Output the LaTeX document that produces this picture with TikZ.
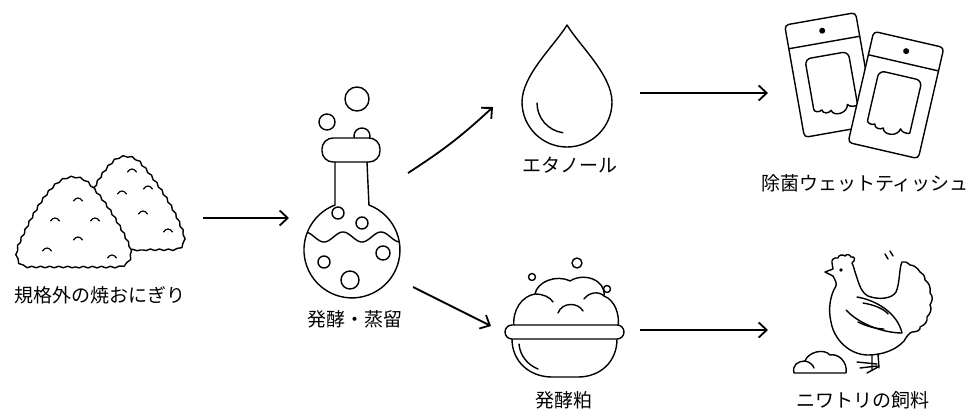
\documentclass[tikz,border=0pt]{standalone}
\usepackage{fontspec}
\setmainfont{Noto Sans CJK JP}
\usetikzlibrary{arrows.meta,decorations.pathmorphing}

\tikzset{
  itemtext/.style={font=\fontsize{19}{20}\selectfont, inner sep=0pt},
  flow/.style={line width=1.8pt, -{Straight Barb[length=8pt,width=15pt]}},
  icon/.style={line width=1.4pt, line join=round, line cap=round},
}

\begin{document}
\begin{tikzpicture}[x=1pt,y=-1pt]
\useasboundingbox (0,0) rectangle (973,410);

% rice balls, back one first
\begin{scope}[icon, decoration={snake, segment length=9pt, amplitude=0.8pt}]
\filldraw[fill=white, decorate] (140,250) -- (85,250) .. controls (75,250) and (72,240) .. (78,230)
  .. controls (88,205) and (100,175) .. (115,162) .. controls (122,155) and (134,154) .. (143,163)
  .. controls (158,180) and (175,205) .. (184,228)
  .. controls (190,242) and (186,250) .. (175,250) -- cycle;
\filldraw[fill=white, decorate] (75,267) -- (32,267) .. controls (18,267) and (16,254) .. (22,242)
  .. controls (33,217) and (48,190) .. (62,181) .. controls (71,175) and (83,175) .. (92,184)
  .. controls (107,200) and (122,224) .. (131,244)
  .. controls (137,258) and (130,267) .. (118,267) -- cycle;
\end{scope}
\foreach \x/\y in {78/200, 55/220, 95/220, 78/239, 47/250, 112/257, 132/171, 122/193, 148/188, 143/213, 168/231}
\draw[icon, line width=1.2pt] (\x-4.5,\y+1) .. controls (\x-2,\y-3) and (\x+2,\y-3) .. (\x+4.5,\y+1);

% flask
\draw[icon] (362,136) circle (8);
\draw[icon] (327,122) circle (8);
\draw[icon] (357,99) circle (12);
\filldraw[icon, fill=white, rounded corners=11] (322,138) rectangle (380,162);
\draw[icon] (335,162) -- (335,205) arc[start angle=249.3, end angle=-69.3, radius=48] -- (367,162);
\begin{scope}
\clip (352,250) circle (48);
\draw[icon] plot[domain=300:405, samples=80] (\x, {237-5*cos((\x-305)*9.4737)});
\end{scope}
\foreach \x/\y/\r in {338/213/6, 362/223/6, 324/262/6, 383/253/7, 350/280/9}
\draw[icon] (\x,\y) circle (\r);

% drop
\draw[icon] (567,25) .. controls (555,45) and (522,75) .. (522,102)
  arc[start angle=180, end angle=0, radius=45] .. controls (612,75) and (579,45) .. cycle;
\draw[icon] (537,103) arc[start angle=180, end angle=98, radius=30];

% wet tissue packs
\foreach \cx/\cy/\ang in {830/75/10, 896/95/-13}
{
\begin{scope}[shift={(\cx,\cy)}, rotate=\ang]
\filldraw[icon, fill=white, rounded corners=4] (-36,-57) rectangle (36,57);
\draw[icon] (-36,-33) -- (36,-33);
\fill (0,-45) circle (3);
\draw[icon, rounded corners=6] (-22,31) -- (-22,-20) -- (22,-20) -- (22,28) [sharp corners]
  .. controls (22,35) and (14,36) .. (12,32) .. controls (11,41) and (-4,42) .. (-5,35)
  .. controls (-8,38) and (-14,37) .. (-14,33) .. controls (-17,35) and (-22,34) .. cycle;
\end{scope}
}

% bowl of lees
\foreach \x/\y/\r in {577/263/5, 532/277/3.5, 607/289/3.5}
\draw[icon] (\x,\y) circle (\r);
\filldraw[icon, fill=white] (514,327) .. controls (512,310) and (522,296) .. (535,294)
  .. controls (537,282) and (556,274) .. (570,281) .. controls (584,272) and (606,280) .. (604,296)
  .. controls (615,300) and (620,315) .. (618,327);
\draw[icon] (535,294) .. controls (543,294) and (550,297) .. (553,302);
\draw[icon] (558,313) .. controls (562,302) and (578,302) .. (583,311);
\draw[icon] (584,299) .. controls (589,292) and (599,291) .. (604,296);
\draw[icon] (512,339) .. controls (512,362) and (530,377) .. (552,377) -- (578,377)
  .. controls (600,377) and (617,362) .. (617,339);
\filldraw[icon, fill=white, rounded corners=7] (505,325) rectangle (624,339);
\draw[icon] (519,344) .. controls (520,356) and (528,365) .. (538,369);

% chicken and feed
\draw[icon] (833,269) -- (825,272) -- (833,276)
  .. controls (835,280) and (837,283) .. (836,286)
  .. controls (830,295) and (828,310) .. (831,322)
  .. controls (834,340) and (850,355) .. (868,355)
  .. controls (882,355) and (896,350) .. (904,341)
  .. controls (907,336) and (909,333) .. (912,332)
  .. controls (917,332) and (921,330) .. (920,327) .. controls (925,325) and (928,321) .. (927,317)
  .. controls (931,313) and (932,308) .. (930,305) .. controls (933,300) and (933,296) .. (930,293)
  .. controls (931,287) and (929,283) .. (925,280) .. controls (925,276) and (923,273) .. (920,272)
  .. controls (917,267) and (913,265) .. (910,265) .. controls (907,262) and (904,261) .. (902,262)
  .. controls (899,268) and (900,283) .. (896,292) .. controls (892,299) and (878,300) .. (868,296)
  .. controls (860,292) and (858,280) .. (855,272) .. controls (854,268) and (853,265) .. (852,263)
  .. controls (856,260) and (855,256) .. (851,257) .. controls (850,254) and (846,254) .. (845,256)
  .. controls (843,254) and (838,255) .. (838,258) .. controls (834,257) and (831,260) .. (832,263)
  .. controls (832,265) and (833,267) .. cycle;
\fill (841,270) circle (1.8);
\draw[icon] (857,297) .. controls (875,300) and (897,312) .. (902,333)
  .. controls (885,333) and (860,325) .. (846,310);
\draw[icon] (863,303) .. controls (875,305) and (884,309) .. (888,314);
\draw[icon] (858,322) .. controls (868,327) and (878,329) .. (884,329);
\draw[icon] (872,355) -- (872,370) (878,354) -- (879,368);
\draw[icon] (857,362) -- (877,364) (860,368) -- (877,366) (867,373) -- (878,367);
\draw[icon] (885,254) -- (888,259) (890,251) -- (893,256);
\draw[icon] (794,373) .. controls (792,365) and (798,361) .. (805,361)
  .. controls (808,352) and (824,348) .. (830,355) .. controls (838,353) and (848,362) .. (846,373) -- cycle;
\draw[icon] (805,361) .. controls (810,362) and (813,365) .. (814,368);

% labels
\node[itemtext] (onigiri) at (100,295) {規格外の焼おにぎり};
\node[itemtext] (ferment) at (355,319) {発酵・蒸留};
\node[itemtext] (ethanol) at (570,165) {エタノール};
\node[itemtext] (tissue) at (865,183) {除菌ウェットティッシュ};
\node[itemtext] (lees) at (564,400) {発酵粕};
\node[itemtext] (feed) at (863,400) {ニワトリの飼料};

% arrows
\coordinate (onigiri-out) at (203,218);
\coordinate (flask-in) at (289,218);
\coordinate (flask-up) at (408,173);
\coordinate (drop-in) at (493,107);
\coordinate (flask-down) at (413,287);
\coordinate (bowl-in) at (491,326);
\coordinate (drop-out) at (640,93);
\coordinate (tissue-in) at (768,93);
\coordinate (bowl-out) at (640,330);
\coordinate (feed-in) at (768,330);

\draw[flow] (onigiri-out) -- (flask-in);
\draw[flow] (flask-up) to[bend right=5] (drop-in);
\draw[flow] (flask-down) -- (bowl-in);
\draw[flow] (drop-out) -- (tissue-in);
\draw[flow] (bowl-out) -- (feed-in);
\end{tikzpicture}
\end{document}
